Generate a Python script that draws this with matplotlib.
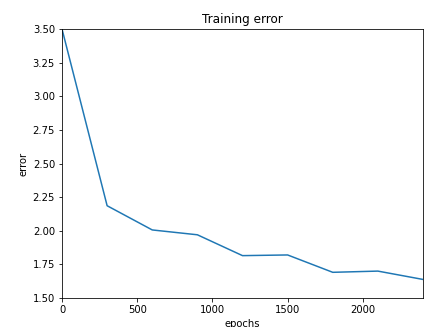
import matplotlib
matplotlib.use("Agg")
import matplotlib.pyplot as plt

# training error recorded every 300 epochs
epochs = [0, 300, 600, 900, 1200, 1500, 1800, 2100, 2400]
error = [3.50, 2.186, 2.006, 1.970, 1.815, 1.820, 1.691, 1.700, 1.638]

fig = plt.figure(figsize=(425 / 72, 327 / 72), dpi=72)
ax = fig.add_axes([62 / 425, 1 - 298 / 327, 361 / 425, 269 / 327])

ax.plot(epochs, error, color="#1f77b4", linewidth=1.5)
ax.set_xlim(0, 2400)
ax.set_ylim(1.5, 3.5)
ax.set_xticks([0, 500, 1000, 1500, 2000])
ax.set_yticks([1.5, 1.75, 2.0, 2.25, 2.5, 2.75, 3.0, 3.25, 3.5])
ax.yaxis.set_major_formatter(matplotlib.ticker.FormatStrFormatter("%.2f"))

ax.set_title("Training error")
ax.set_xlabel("epochs")
ax.set_ylabel("error")

fig.savefig("out.png", dpi=72)
